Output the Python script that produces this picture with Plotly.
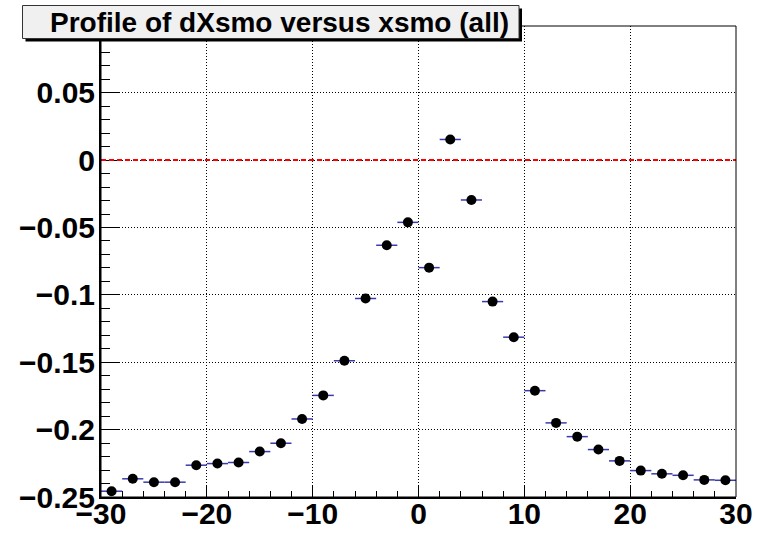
import numpy as np
import plotly.graph_objects as go

# Profile bins: centres, mean dXsmo per bin, bin half-width
bin_centers = [-29, -27, -25, -23, -21, -19, -17, -15, -13, -11,
               -9, -7, -5, -3, -1, 1, 3, 5, 7, 9,
               11, 13, 15, 17, 19, 21, 23, 25, 27, 29]
dxsmo_mean = [-0.2457, -0.2365, -0.2390, -0.2390, -0.2264, -0.2252, -0.2244, -0.2163, -0.2101, -0.1921,
              -0.1746, -0.1489, -0.1027, -0.0632, -0.0462, -0.0798, 0.0153, -0.0296, -0.1050, -0.1314,
              -0.1711, -0.1950, -0.2052, -0.2148, -0.2232, -0.2304, -0.2328, -0.2339, -0.2373, -0.2376]
bin_halfwidth = [1.0] * len(bin_centers)

reference_level = 0.0

x_tickvals = [-30, -20, -10, 0, 10, 20, 30]
x_ticktext = ["\u221230", "\u221220", "\u221210", "0", "10", "20", "30"]
y_tickvals = [-0.25, -0.2, -0.15, -0.1, -0.05, 0, 0.05]
y_ticktext = ["\u22120.25", "\u22120.2", "\u22120.15", "\u22120.1", "\u22120.05", "0", "0.05"]

title_text = "Profile of dXsmo versus xsmo (all)"

W_PX, H_PX = 757, 534
L, R, T, B = 101, 21, 26, 37
PW = W_PX - L - R
PH = H_PX - T - B


def px_x(p):
    return (p - L) / PW


def px_y(p):
    return 1 - (p - T) / PH


FONT = "Liberation Sans, Arial, Helvetica, sans-serif"

fig = go.Figure()

fig.add_trace(go.Scatter(
    x=bin_centers,
    y=dxsmo_mean,
    mode="markers",
    marker=dict(symbol="circle", size=10, color="black"),
    error_x=dict(type="data", array=bin_halfwidth, symmetric=True,
                 color="#3a3ab0", thickness=1.5, width=0),
    showlegend=False,
    hoverinfo="x+y",
))

shapes = [
    # zero reference line
    dict(type="line", xref="paper", yref="y", x0=0, x1=1,
         y0=reference_level, y1=reference_level,
         line=dict(color="red", width=2, dash="5px,3px"), layer="above"),
    # thin frame around the plotting area
    dict(type="rect", xref="paper", yref="paper", x0=0, x1=1, y0=0, y1=1,
         line=dict(color="black", width=1), fillcolor="rgba(0,0,0,0)", layer="above"),
    # title box shadow
    dict(type="rect", xref="paper", yref="paper",
         x0=px_x(25.5), x1=px_x(522), y0=px_y(41.5), y1=px_y(8.5),
         line=dict(width=0), fillcolor="black", layer="above"),
    # title box
    dict(type="rect", xref="paper", yref="paper",
         x0=px_x(22.5), x1=px_x(519), y0=px_y(38.5), y1=px_y(5.5),
         line=dict(color="#333333", width=1), fillcolor="#f0f0f0", layer="above"),
]

fig.update_layout(
    width=W_PX, height=H_PX,
    margin=dict(l=L, r=R, t=T, b=B, pad=0, autoexpand=False),
    paper_bgcolor="white",
    plot_bgcolor="white",
    font=dict(family=FONT, size=30, color="black", weight="bold"),
    shapes=shapes,
    annotations=[dict(
        text=title_text, xref="paper", yref="paper",
        x=px_x(279), y=px_y(22.5), xanchor="center", yanchor="middle",
        showarrow=False,
        font=dict(family=FONT, size=28, color="black", weight="bold"),
    )],
)

fig.update_xaxes(
    range=[-30, 30], automargin=False,
    tickmode="array", tickvals=x_tickvals, ticktext=x_ticktext,
    ticks="inside", ticklen=12, tickwidth=1, tickcolor="black",
    showline=True, linecolor="black", linewidth=2, mirror=False,
    showgrid=True, gridcolor="black", gridwidth=1, griddash="1px,2px",
    zeroline=False,
    ticklabelstandoff=-11,
    minor=dict(tickmode="array", tickvals=list(np.arange(-30, 31, 2)),
               ticks="inside", ticklen=6, tickwidth=1, tickcolor="black", showgrid=False),
)

fig.update_yaxes(
    range=[-0.25, 0.0995], automargin=False,
    tickmode="array", tickvals=y_tickvals, ticktext=y_ticktext,
    ticks="inside", ticklen=18, tickwidth=1, tickcolor="black",
    showline=True, linecolor="black", linewidth=2, mirror=False,
    showgrid=True, gridcolor="black", gridwidth=1, griddash="1px,2px",
    zeroline=False,
    ticklabelstandoff=-2,
    minor=dict(tickmode="array", tickvals=list(np.round(np.arange(-0.25, 0.1, 0.01), 3)),
               ticks="inside", ticklen=9, tickwidth=1, tickcolor="black", showgrid=False),
)

fig.write_html("out.html")
